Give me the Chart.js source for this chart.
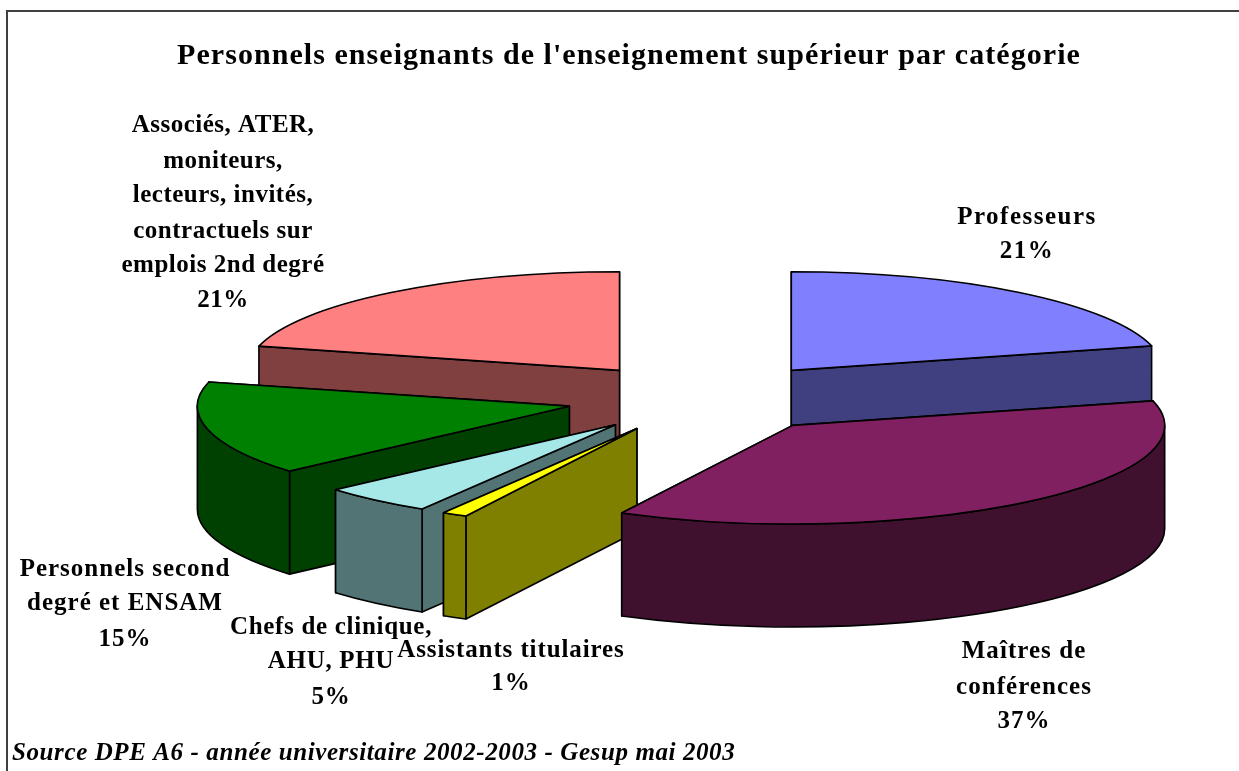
<!DOCTYPE html>
<html lang="fr">
<head>
  <meta charset="UTF-8" />
  <title>Personnels enseignants</title>
  <script src="https://cdn.jsdelivr.net/npm/chart.js"></script>
  <style>
    html, body { margin: 0; padding: 0; background: #fff; overflow: hidden; }
    #wrap { position: relative; width: 1239px; height: 771px; }
    #frame { position: absolute; left: 6px; top: 10px; right: 0; bottom: 0;
             border-left: 2px solid #404040; border-top: 2px solid #404040; }
    #pie { position: absolute; left: 0; top: 0; }
  </style>
</head>
<body>
  <div id="wrap">
    <div id="frame"></div>
    <canvas id="pie" width="1239" height="771"></canvas>
  </div>

  <script>
    const categories = [
      'Professeurs',
      'Maîtres de conférences',
      'Assistants titulaires',
      'Chefs de clinique, AHU, PHU',
      'Personnels second degré et ENSAM',
      'Associés, ATER, moniteurs, lecteurs, invités, contractuels sur emplois 2nd degré'
    ];
    const shares = [21, 36.6, 1.1, 4.85, 15.4, 21.05];
    const topColors = ['#8080FF', '#802060', '#FFFF00', '#A6E8E8', '#008000', '#FF8080'];
    const wallColors = ['#404080', '#40102F', '#808000', '#537474', '#004000', '#804040'];
    const labelLines = [
      ['Professeurs'],
      ['Maîtres de', 'conférences'],
      ['Assistants titulaires'],
      ['Chefs de clinique,', 'AHU, PHU'],
      ['Personnels second', 'degré et ENSAM'],
      ['Associés, ATER,', 'moniteurs,', 'lecteurs, invités,', 'contractuels sur', 'emplois 2nd degré']
    ];
    const titleText = "Personnels enseignants de l'enseignement supérieur par catégorie";
    const sourceText = 'Source DPE A6 - année universitaire 2002-2003 - Gesup mai 2003';

    // look of the fake 3D pie
    const SQUASH = 0.265, DEPTH = 103, EXPLODE = 140, EXPLODE_Y = 0.25;
    const drawOrder = [0, 5, 4, 3, 2, 1]; // back to front
    // label anchors: centre x, baseline of each line, letter spacing
    const labelAnchors = [
      { x: 1027, ys: [224, 258], gap: 1.5 },
      { x: 1024, ys: [658, 694, 728], gap: 1.05 },
      { x: 511, ys: [657, 690], gap: 0.9 },
      { x: 331, ys: [634, 668, 704], gap: 0.7 },
      { x: 125, ys: [576, 610, 646], gap: 1 },
      { x: 223, ys: [132, 168, 202, 238, 272, 307], gap: 0.5 }
    ];

    const pie3d = {
      id: 'pie3d',
      beforeDatasetDraw(chart, args) {
        const ctx = chart.ctx;
        const arcs = args.meta.data;
        drawOrder.forEach(i => drawSlice(ctx, arcs[i], i));
        return false; // slices are painted above, in depth order
      },
      afterDraw(chart) {
        const ctx = chart.ctx;
        ctx.save();
        ctx.fillStyle = '#000';
        ctx.textAlign = 'center';
        ctx.textBaseline = 'alphabetic';

        ctx.font = 'bold 30px "Liberation Serif"';
        ctx.letterSpacing = '1.05px';
        ctx.fillText(titleText, 629, 64);

        ctx.font = 'bold 25px "Liberation Serif"';
        labelLines.forEach((lines, i) => {
          const a = labelAnchors[i];
          ctx.letterSpacing = a.gap + 'px';
          lines.concat(Math.round(shares[i]) + '%').forEach((t, k) => ctx.fillText(t, a.x, a.ys[k]));
        });

        ctx.textAlign = 'left';
        ctx.font = 'italic bold 25px "Liberation Serif"';
        ctx.letterSpacing = '0.6px';
        ctx.fillText(sourceText, 12, 760);
        ctx.restore();
      }
    };

    function drawSlice(ctx, arc, i) {
      const { x, y, startAngle, endAngle, outerRadius: r } = arc;
      const mid = (startAngle + endAngle) / 2;
      const ax = x + Math.cos(mid) * EXPLODE;
      const ay = y + Math.sin(mid) * EXPLODE * EXPLODE_Y;
      const edge = a => [ax + Math.cos(a) * r, ay + Math.sin(a) * r * SQUASH];

      ctx.save();
      ctx.lineWidth = 1.6;
      ctx.strokeStyle = '#000';
      ctx.lineJoin = 'round';
      ctx.fillStyle = wallColors[i];

      // cut faces, the one further back first
      [startAngle, endAngle].sort((p, q) => Math.sin(p) - Math.sin(q)).forEach(a => {
        const [ex, ey] = edge(a);
        ctx.beginPath();
        ctx.moveTo(ax, ay);
        ctx.lineTo(ex, ey);
        ctx.lineTo(ex, ey + DEPTH);
        ctx.lineTo(ax, ay + DEPTH);
        ctx.closePath();
        ctx.fill();
        ctx.stroke();
      });

      // outer wall, only the part facing us
      const from = Math.max(startAngle, 0), to = Math.min(endAngle, Math.PI);
      if (to > from) {
        ctx.beginPath();
        ctx.ellipse(ax, ay, r, r * SQUASH, 0, from, to);
        ctx.ellipse(ax, ay + DEPTH, r, r * SQUASH, 0, to, from, true);
        ctx.closePath();
        ctx.fill();
        ctx.stroke();
      }

      // top face: the arc itself, flattened
      ctx.save();
      ctx.translate(ax, ay);
      ctx.scale(1, SQUASH);
      ctx.translate(-x, -y);
      arc.draw(ctx);
      ctx.restore();

      ctx.beginPath();
      ctx.moveTo(ax, ay);
      ctx.ellipse(ax, ay, r, r * SQUASH, 0, startAngle, endAngle);
      ctx.closePath();
      ctx.stroke();
      ctx.restore();
    }

    new Chart(document.getElementById('pie'), {
      type: 'pie',
      data: {
        labels: categories,
        datasets: [{
          data: shares,
          backgroundColor: topColors,
          borderWidth: 0,
          clip: false
        }]
      },
      options: {
        responsive: false,
        animation: false,
        radius: 372,
        layout: { padding: { left: 172, top: 25 } },
        plugins: { legend: { display: false }, tooltip: { enabled: false } }
      },
      plugins: [pie3d]
    });
  </script>
</body>
</html>
